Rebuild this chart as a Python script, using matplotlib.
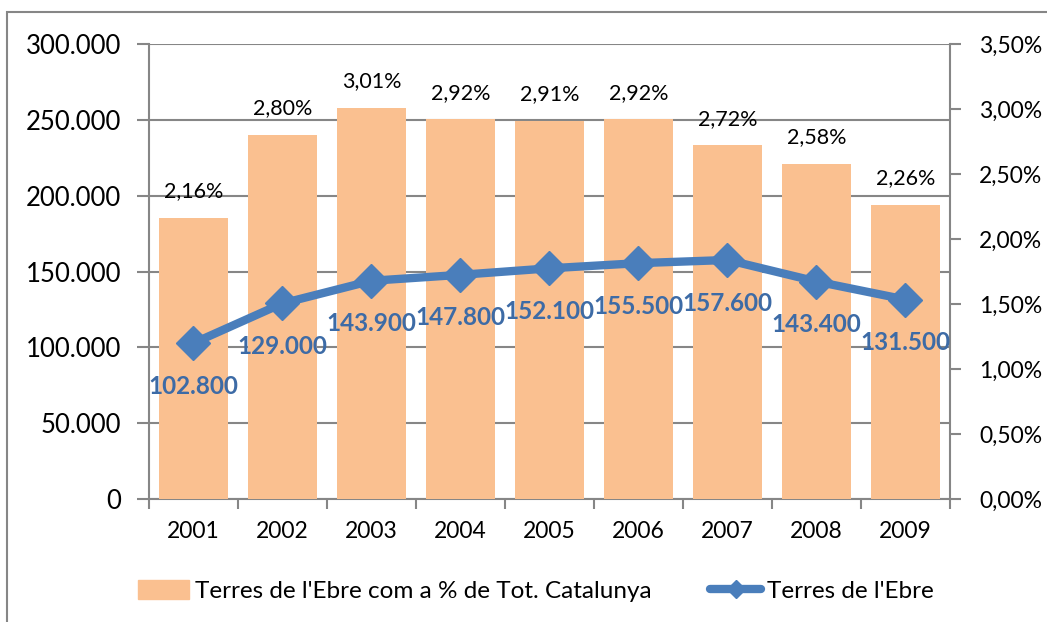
import matplotlib.pyplot as plt
from matplotlib.patches import Rectangle, Patch
from matplotlib.lines import Line2D
from matplotlib.ticker import FuncFormatter, FixedLocator

plt.rcParams['font.family'] = ['Lato', 'DejaVu Sans']

years = ['2001', '2002', '2003', '2004', '2005', '2006', '2007', '2008', '2009']
pct_cat = [2.16, 2.80, 3.01, 2.92, 2.91, 2.92, 2.72, 2.58, 2.26]
ebre = [102800, 129000, 143900, 147800, 152100, 155500, 157600, 143400, 131500]

bar_name = "Terres de l'Ebre com a % de Tot. Catalunya"
line_name = "Terres de l'Ebre"

bar_col = '#FAC090'
line_col = '#4A7EBB'
lab_col = '#3D6BA6'
grey = '#868686'

fig = plt.figure(figsize=(10.47, 6.22), dpi=100)
pos = [149/1047, 1-499/622, (950-149)/1047, (499-44)/622]

# base axes: left scale + grid
ax = fig.add_axes(pos)
# bars on right (percent) scale
axb = ax.twinx()
# line on left scale, on top
axl = ax.twinx()

x = list(range(len(years)))

ax.set_ylim(0, 300000)
ax.set_yticks(range(0, 300001, 50000))
ax.yaxis.set_major_formatter(FuncFormatter(lambda v, p: f'{int(v):,}'.replace(',', '.')))
ax.grid(axis='y', color=grey, lw=1.5)
ax.set_axisbelow(True)
ax.set_xlim(-0.5, len(years) - 0.5)
ax.set_xticks(x)
ax.set_xticklabels(years)
ax.xaxis.set_minor_locator(FixedLocator([i - 0.5 for i in range(len(years) + 1)]))
ax.tick_params(axis='x', which='major', length=0, pad=16, labelsize=16.5)
ax.tick_params(axis='x', which='minor', length=7, width=1.5, color=grey)
ax.tick_params(axis='y', length=9, width=1.5, color=grey, labelsize=18.5, pad=11)
for s in ['top', 'right']:
    ax.spines[s].set_visible(False)
for s in ['left', 'bottom']:
    ax.spines[s].set_color(grey)
    ax.spines[s].set_linewidth(1.5)

axb.bar(x, [p / 100 for p in pct_cat], width=0.77, color=bar_col)
axb.set_ylim(0, 0.035)
axb.set_yticks([i * 0.005 for i in range(8)])
axb.yaxis.set_major_formatter(FuncFormatter(lambda v, p: f'{v*100:.2f}%'.replace('.', ',')))
axb.tick_params(axis='y', length=8, width=1.5, color=grey, labelsize=16.5, pad=13)
for s in ['top', 'left', 'bottom']:
    axb.spines[s].set_visible(False)
axb.spines['right'].set_color(grey)
axb.spines['right'].set_linewidth(1.5)
for xi, p in zip(x, pct_cat):
    axb.annotate(f'{p:.2f}%'.replace('.', ','), (xi, p / 100), xytext=(0, 12),
                 textcoords='offset points', ha='center', va='bottom', fontsize=15.5)

axl.plot(x, ebre, color=line_col, lw=6, marker='D', markersize=17, zorder=3)
axl.set_ylim(0, 300000)
axl.set_yticks([])
for s in axl.spines.values():
    s.set_visible(False)
for xi, v in zip(x, ebre):
    axl.annotate(f'{v:,}'.replace(',', '.'), (xi, v), xytext=(0, -31),
                 textcoords='offset points', ha='center', va='center',
                 fontsize=17.5, fontweight='bold', color=lab_col)

handles = [Patch(color=bar_col, label=bar_name),
           Line2D([], [], color=line_col, lw=6, marker='D', markersize=9,
                  solid_capstyle='round', label=line_name)]
fig.legend(handles=handles, loc='center', bbox_to_anchor=(0.512, 0.05), ncol=2,
           frameon=False, fontsize=17.5, handlelength=2.1, handleheight=0.8,
           handletextpad=0.25, columnspacing=2.4)

fig.add_artist(Rectangle((7/1047, -0.1), 1.2, 1.1 - 12/622, transform=fig.transFigure,
                         fill=False, edgecolor=grey, lw=1.5))

fig.savefig('out.png', dpi=100)
